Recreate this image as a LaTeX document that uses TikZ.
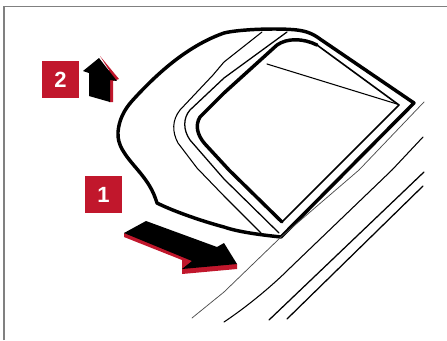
\documentclass[tikz,border=0pt]{standalone}
\usepackage{fontspec}
\setmainfont{Liberation Sans}
\definecolor{brandred}{HTML}{C1172C}
\tikzset{
  px/.style={x=0.75pt,y=-0.75pt},
  badge/.style={fill=brandred,text=white,minimum size=27.75pt,inner sep=0pt,font=\fontsize{16.5}{18}\selectfont\bfseries},
  thick outline/.style={draw=black,line width=2.6pt,line join=round,line cap=round},
  fine/.style={draw=black,line width=0.8pt,line cap=round,line join=round},
  hair/.style={draw=black!70,line width=0.55pt,line cap=round},
  framing/.style={draw=black!50,line width=0.9pt}
}
\begin{document}
\begin{tikzpicture}[px]
\useasboundingbox (0,0) rectangle (447,340);
\fill[white] (0,0) rectangle (447,340);
\draw[framing] (4,340) -- (4,6.5) -- (447,6.5);
% outer outline
\draw[thick outline] (281,237)
  .. controls (262,235) and (238,232) .. (224,227)
  .. controls (205,222) and (175,212) .. (157,203)
  .. controls (153,190) and (148,182) .. (137,169)
  .. controls (125,155) and (117,145) .. (118,132)
  .. controls (119,120) and (124,110) .. (132,101)
  .. controls (160,70) and (190,45) .. (224,33)
  .. controls (240,29) and (280,28) .. (297,30)
  .. controls (305,31) and (312,33) .. (320,39)
  -- (414,103) -- cycle;
% window
\draw[thick outline] (282,222) -- (229,170) -- (205,144)
  .. controls (197,135) and (195,125) .. (200,117)
  -- (224,93) -- (277,45)
  .. controls (287,38) and (303,38) .. (317,45);
\draw[fine,line width=1.2pt] (317,45) -- (399,105) -- (282,222);
\draw[fine] (267,64) -- (397,104);
% frame lines
\draw[fine,line width=0.95pt] (287,32) -- (224,78) -- (190,110)
  .. controls (183,118) and (183,130) .. (190,140)
  -- (224,179) -- (279,233);
\draw[fine] (262,32) -- (224,62) -- (213,75) -- (180,110)
  .. controls (172,120) and (172,132) .. (178,143)
  -- (197,168) -- (224,196) -- (261,233);
% road lines
\draw[hair] (424,102) -- (359,170) -- (281,237) -- (224,292) -- (192,318);
\draw[fine] (423,137) -- (392,170) -- (291,267)
  .. controls (270,288) and (245,308) .. (224,322);
\draw[fine,line width=0.95pt] (424,172) -- (269,320);
\draw[fine,line width=0.95pt] (423,186) -- (287,319);
% arrow 1
\fill[brandred] (124,233) -- (124,237) -- (182,260) -- (182,274) -- (237,269) -- (237,264) -- cycle;
\fill[black] (146,221) -- (124,233) -- (192,261) -- (182,269) -- (237,264) -- (224,243) -- (217,247) -- cycle;
% arrow 2
\fill[brandred] (100,56) -- (119,79) -- (113,81) -- (113,102) -- (109,102) -- (109,70) -- cycle;
\fill[black] (99,58) -- (83,71) -- (89,73) -- (89,96) -- (110,102) -- (110,80) -- (117,81) -- cycle;
% badges
\node[badge] (b2) at (60.5,79.5) {2};
\node[badge] (b1) at (103.5,194.5) {1};
\end{tikzpicture}
\end{document}
